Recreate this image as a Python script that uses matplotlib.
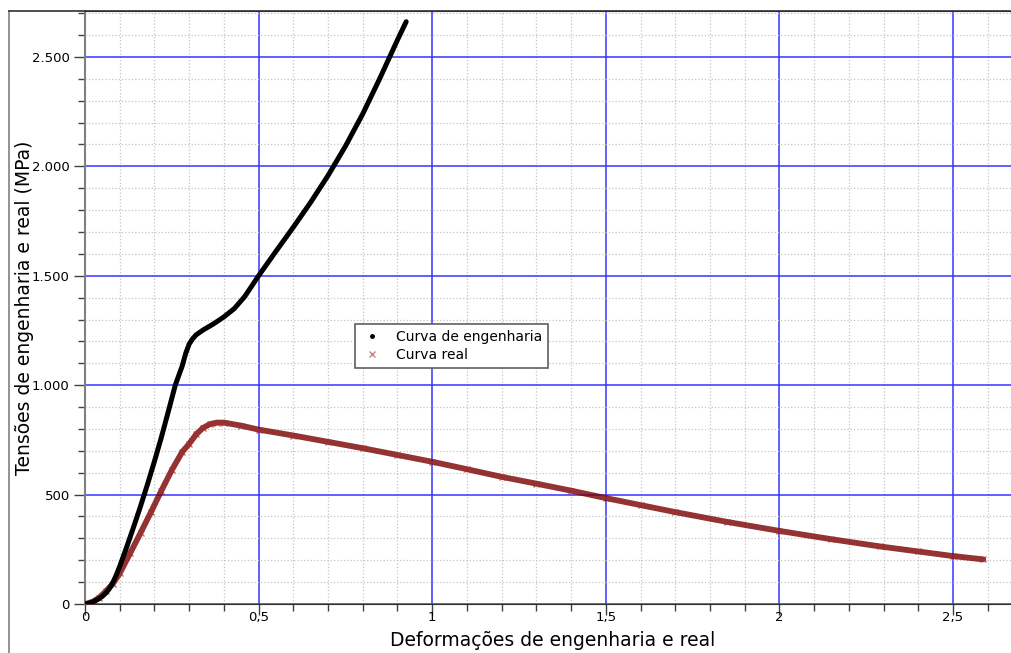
import matplotlib
matplotlib.use("Agg")
import matplotlib.pyplot as plt
from matplotlib.lines import Line2D
from matplotlib.ticker import MultipleLocator, FuncFormatter

# Curva de engenharia (deformação, tensão em MPa)
eng_def = [0.0, 0.01, 0.02, 0.03, 0.04, 0.05, 0.06, 0.07, 0.08, 0.09, 0.10,
           0.12, 0.14, 0.16, 0.18, 0.20, 0.22, 0.24, 0.26, 0.28, 0.29, 0.30,
           0.31, 0.32, 0.34, 0.37, 0.40, 0.43, 0.46, 0.50, 0.55, 0.60, 0.65,
           0.70, 0.75, 0.80, 0.85, 0.90, 0.925]
eng_ten = [0, 3, 8, 15, 24, 35, 50, 70, 97, 132, 172,
           260, 352, 447, 547, 652, 762, 880, 1000, 1088, 1145, 1188,
           1212, 1230, 1252, 1280, 1312, 1350, 1405, 1500, 1612, 1722, 1836,
           1958, 2092, 2240, 2405, 2578, 2661]

# Curva real
real_def = [0.0, 0.02, 0.04, 0.06, 0.08, 0.10, 0.13, 0.16, 0.19, 0.22, 0.25,
            0.28, 0.30, 0.32, 0.34, 0.36, 0.38, 0.40, 0.45, 0.50, 0.60, 0.70,
            0.80, 0.90, 1.00, 1.10, 1.20, 1.30, 1.40, 1.50, 1.60, 1.70, 1.85,
            2.00, 2.15, 2.29, 2.40, 2.50, 2.587]
real_ten = [0, 8, 28, 58, 92, 140, 232, 325, 420, 518, 612,
            695, 732, 775, 805, 822, 829, 829, 815, 797, 770, 741,
            712, 681, 650, 616, 581, 550, 518, 484, 452, 420, 375,
            334, 296, 263, 240, 219, 204]

fig = plt.figure(figsize=(10.11, 6.53), dpi=100)
W, H = 1011, 653
ax = fig.add_axes([85 / W, (H - 604) / H, (1011 - 85) / W, (604 - 11) / H])

# moldura externa
fig.add_artist(Line2D([9 / W, 9 / W], [0, 1 - 11 / H], color="#808080", lw=1.2))
fig.add_artist(Line2D([9 / W, 1], [1 - 11 / H, 1 - 11 / H], color="#303030", lw=1.2))

ax.plot(eng_def, eng_ten, color="black", lw=3.6, solid_capstyle="round",
        solid_joinstyle="round", zorder=4)
ax.plot(real_def, real_ten, color="#7a0000", lw=4.2, alpha=0.8, solid_capstyle="round",
        solid_joinstyle="round", zorder=3)
ax.plot(real_def, real_ten, "x", color="#a03030", ms=4.5, mew=1, alpha=0.7, zorder=3)

ax.set_xlim(0, 2.667)
ax.set_ylim(0, 2710)

ax.xaxis.set_major_locator(MultipleLocator(0.5))
ax.xaxis.set_minor_locator(MultipleLocator(0.1))
ax.yaxis.set_major_locator(MultipleLocator(500))
ax.yaxis.set_minor_locator(MultipleLocator(100))

ax.xaxis.set_major_formatter(FuncFormatter(lambda v, p: f"{v:g}".replace(".", ",")))
ax.yaxis.set_major_formatter(FuncFormatter(lambda v, p: f"{int(v):,}".replace(",", ".")))

ax.grid(which="minor", color="#c4c4c4", ls=":", lw=0.9)
ax.grid(which="major", color="#3434ff", ls="-", lw=1.1)
ax.set_axisbelow(True)

ax.tick_params(which="major", length=8, width=1, color="#404040", labelsize=9.5, pad=3)
ax.tick_params(which="minor", length=5, width=1, color="#404040")
ax.tick_params(axis="x", which="major", pad=-3)

ax.spines["right"].set_visible(False)
ax.spines["left"].set_color("#808080")
ax.spines["left"].set_linewidth(1.5)
ax.spines["bottom"].set_color("#303030")
ax.spines["top"].set_color("#303030")

fig.text(553 / W, 1 - 640 / H, "Deformações de engenharia e real", fontsize=13.5,
         ha="center", va="center")
fig.text(25 / W, 1 - 308 / H, "Tensões de engenharia e real (MPa)", fontsize=13.5,
         ha="center", va="center", rotation=90)

handles = [
    Line2D([], [], ls="none", marker=".", color="black", ms=5),
    Line2D([], [], ls="none", marker="x", color="#d08080", ms=5, mew=1),
]
leg = ax.legend(handles, ["Curva de engenharia", "Curva real"],
                loc="upper left", bbox_to_anchor=(0.284, 0.484), fontsize=10,
                frameon=True, fancybox=False, framealpha=1, edgecolor="#606060",
                borderpad=0.45, labelspacing=0.25, handletextpad=1.0, handlelength=1.5)
leg.get_frame().set_linewidth(1.2)

fig.savefig("out.png", dpi=100)
